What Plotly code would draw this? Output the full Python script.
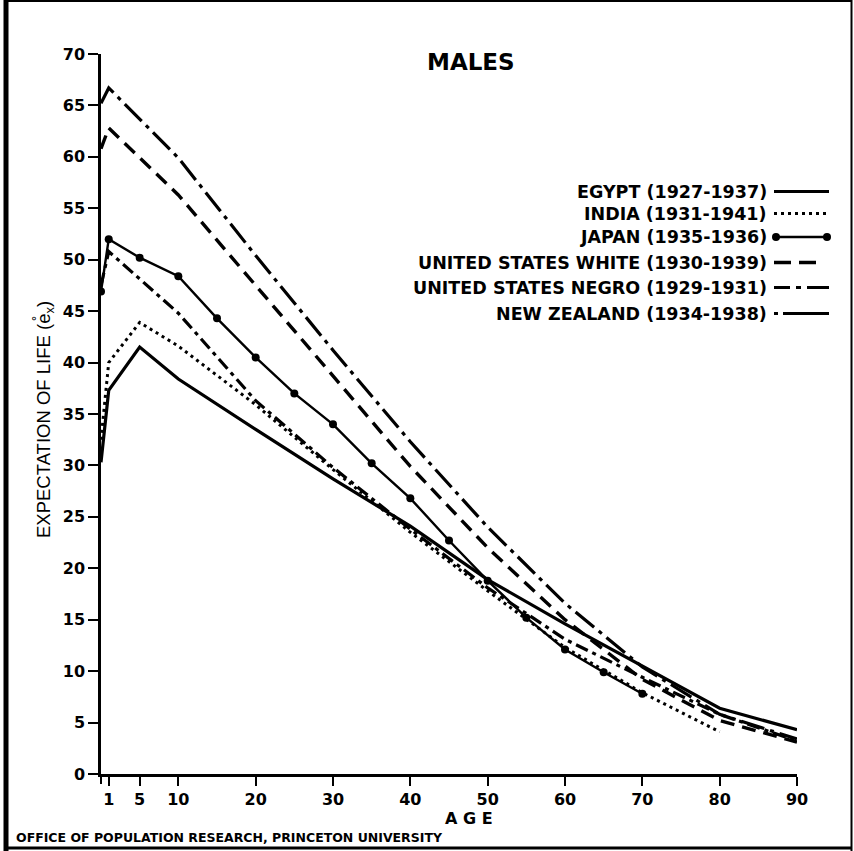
import plotly.graph_objects as go

# ---------------- data ----------------
egypt_age = [0, 1, 5, 10, 20, 30, 40, 50, 60, 70, 80, 90]
egypt_ex = [30.3, 37.3, 41.5, 38.4, 33.5, 28.7, 24.1, 18.9, 14.6, 10.5, 6.4, 4.3]

india_age = [0, 1, 5, 10, 20, 30, 40, 50, 60, 70, 80]
india_ex = [32.5, 40.0, 43.9, 41.6, 35.9, 29.6, 23.5, 17.8, 12.3, 7.9, 4.1]

japan_age = [0, 1, 5, 10, 15, 20, 25, 30, 35, 40, 45, 50, 55, 60, 65, 70]
japan_ex = [46.9, 52.0, 50.2, 48.4, 44.3, 40.5, 37.0, 34.0, 30.2, 26.8, 22.7, 18.8, 15.2, 12.1, 9.9, 7.8]

us_age = [0, 1, 10, 20, 30, 40, 50, 60, 70, 80, 90]
us_white_ex = [60.8, 62.8, 56.3, 47.5, 38.7, 29.9, 22.0, 15.0, 9.2, 5.2, 3.1]
us_negro_ex = [47.5, 50.8, 44.8, 36.3, 29.8, 23.8, 18.1, 13.1, 9.4, 5.8, 3.2]

nz_age = [0, 1, 10, 20, 30, 40, 50, 60, 70, 80, 90]
nz_ex = [65.2, 66.7, 59.9, 50.4, 41.2, 32.3, 24.0, 16.6, 10.4, 5.8, 3.4]

series_names = [
    "EGYPT (1927-1937)",
    "INDIA (1931-1941)",
    "JAPAN (1935-1936)",
    "UNITED STATES WHITE (1930-1939)",
    "UNITED STATES NEGRO (1929-1931)",
    "NEW ZEALAND (1934-1938)",
]

x_tickvals = [1, 5, 10, 20, 30, 40, 50, 60, 70, 80, 90]
x_ticktext = ["1", "5", "10", "20", "30", "40", "50", "60", "70", "80", "90"]
y_tickvals = list(range(0, 71, 5))

# ---------------- figure ----------------
W, H = 854, 851
ML, MR, MT, MB = 101, 57, 54, 77
PW, PH = W - ML - MR, H - MT - MB


def px(x):
    return (x - ML) / PW


def py(y):
    return (H - MB - y) / PH


FONT = "DejaVu Sans"

styles = [
    dict(color="black", width=3.2, dash="solid"),
    dict(color="black", width=3.0, dash="3px,4px"),
    dict(color="black", width=2.4, dash="solid"),
    dict(color="black", width=3.4, dash="14px,8px"),
    dict(color="black", width=3.2, dash="13px,5px,4px,5px"),
    dict(color="black", width=3.2, dash="24px,6px,4px,6px"),
]

legend_dash = [
    "solid",
    "3px,4px",
    "solid",
    "17px,8px,17px,40px",
    "16px,6px,5px,6px,40px",
    "4px,5px,60px",
]

data_sets = [
    (egypt_age, egypt_ex),
    (india_age, india_ex),
    (japan_age, japan_ex),
    (us_age, us_white_ex),
    (us_age, us_negro_ex),
    (nz_age, nz_ex),
]

fig = go.Figure()
for i, (xs, ys) in enumerate(data_sets):
    mode = "lines+markers" if i == 2 else "lines"
    fig.add_trace(go.Scatter(
        x=xs, y=ys, mode=mode, name=series_names[i],
        line=styles[i],
        marker=dict(size=8, color="black", symbol="circle"),
        showlegend=False, hoverinfo="x+y+name",
    ))

shapes = []
annotations = []

# legend (text on the left, line sample on the right)
leg_rows = [191.5, 213.5, 237.0, 262.5, 287.5, 313.5]
for i, yy in enumerate(leg_rows):
    annotations.append(dict(
        xref="paper", yref="paper", x=px(769), y=py(yy),
        xanchor="right", yanchor="middle", showarrow=False,
        text=series_names[i],
        font=dict(family=FONT, size=17.5, color="black", weight="bold"),
    ))
    st = dict(styles[i])
    st["dash"] = legend_dash[i]
    shapes.append(dict(
        type="line", xref="paper", yref="paper",
        x0=px(774), x1=px(829), y0=py(yy), y1=py(yy),
        line=st, layer="above",
    ))
    if i == 2:
        for cx in (776, 827):
            shapes.append(dict(
                type="circle", xref="paper", yref="paper",
                x0=px(cx - 4), x1=px(cx + 4), y0=py(yy + 4), y1=py(yy - 4),
                fillcolor="black", line=dict(color="black", width=0),
            ))

# small tick at age 0 below the corner
shapes.append(dict(type="line", xref="paper", yref="paper", x0=0, x1=0,
                   y0=py(774), y1=py(784), line=dict(color="black", width=2)))

# frame around the whole picture
shapes += [
    dict(type="line", xref="paper", yref="paper", x0=px(6), x1=px(6), y0=py(0), y1=py(851),
         line=dict(color="black", width=5)),
    dict(type="line", xref="paper", yref="paper", x0=px(4), x1=px(852), y0=py(1), y1=py(1),
         line=dict(color="black", width=2)),
    dict(type="line", xref="paper", yref="paper", x0=px(851.5), x1=px(851.5), y0=py(0), y1=py(851),
         line=dict(color="black", width=2)),
    dict(type="line", xref="paper", yref="paper", x0=px(4), x1=px(852), y0=py(848), y1=py(848),
         line=dict(color="black", width=3)),
]

annotations += [
    dict(xref="paper", yref="paper", x=px(471), y=py(62), showarrow=False,
         xanchor="center", yanchor="middle", text="MALES",
         font=dict(family=FONT, size=23, color="black", weight="bold")),
    dict(xref="paper", yref="paper", x=px(469), y=py(818), showarrow=False,
         xanchor="center", yanchor="middle", text="A G E",
         font=dict(family=FONT, size=16, color="black", weight="bold")),
    dict(xref="paper", yref="paper", x=px(44), y=py(420), showarrow=False,
         xanchor="center", yanchor="middle", textangle=-90,
         text="EXPECTATION OF LIFE (e\u030a<sub>x</sub>)",
         font=dict(family="Liberation Sans", size=18.5, color="black")),
    dict(xref="paper", yref="paper", x=px(14), y=py(838), showarrow=False,
         xanchor="left", yanchor="middle",
         text="OFFICE OF POPULATION RESEARCH, PRINCETON UNIVERSITY",
         font=dict(family=FONT, size=12.5, color="black", weight="bold")),
]

fig.update_layout(
    width=W, height=H,
    margin=dict(l=ML, r=MR, t=MT, b=MB),
    paper_bgcolor="white", plot_bgcolor="white",
    shapes=shapes, annotations=annotations,
    showlegend=False,
    xaxis=dict(
        range=[0, 90], tickmode="array", tickvals=x_tickvals, ticktext=x_ticktext,
        showgrid=False, zeroline=False, showline=True, linecolor="black", linewidth=2.5,
        ticks="outside", ticklen=9, tickwidth=2, tickcolor="black",
        tickfont=dict(family=FONT, size=16, color="black", weight="bold"),
        fixedrange=True,
    ),
    yaxis=dict(
        range=[0, 70], tickmode="array", tickvals=y_tickvals,
        showgrid=False, zeroline=False, showline=True, linecolor="black", linewidth=2.5,
        ticks="outside", ticklen=10, tickwidth=2, tickcolor="black",
        tickfont=dict(family=FONT, size=16, color="black", weight="bold"),
        fixedrange=True,
    ),
)

fig.write_html("out.html")
